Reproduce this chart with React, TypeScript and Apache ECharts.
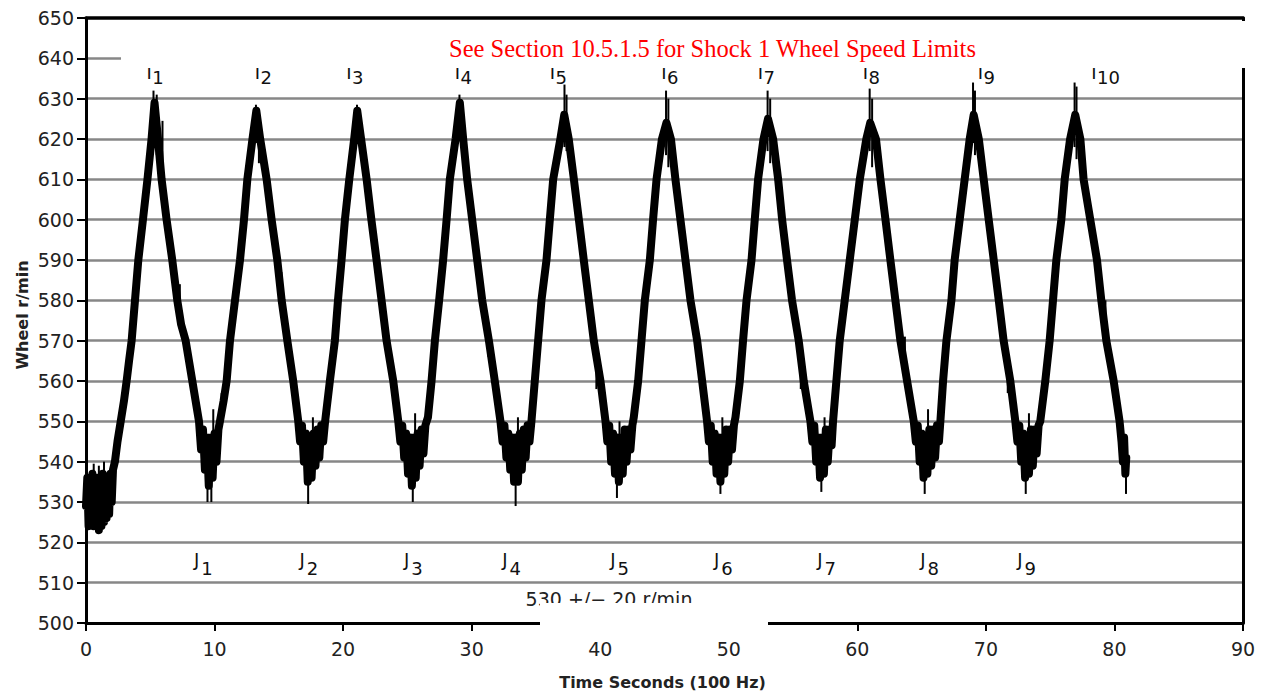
import React, { useEffect, useRef } from "react";
import * as echarts from "echarts";

// Wheel speed trace (r/min), time in seconds
const timeSec: number[] = [
  0.0, 0.1, 0.2, 0.3, 0.4, 0.5, 0.6, 0.7, 0.8, 0.9, 1.0, 1.1, 1.2, 1.3, 1.4, 1.5, 1.6, 1.7, 1.8, 1.9, 2.0, 2.1,
  2.25, 2.45, 2.7, 2.95, 3.16, 3.35, 3.55, 3.81, 4.07, 4.43, 4.78, 5.1, 5.33,
  5.6, 5.88, 6.27, 6.71, 7.1, 7.4, 7.75, 8.27, 8.79,
  8.95, 9.1, 9.25, 9.4, 9.55, 9.7, 9.85, 10.0, 10.15, 10.3,
  10.42, 10.7, 10.94, 11.2, 11.59, 11.98, 12.29, 12.55, 12.95, 13.25,
  13.55, 14.05, 14.44, 14.88, 15.22, 15.66, 16.12, 16.51,
  16.65, 16.8, 16.95, 17.1, 17.25, 17.4, 17.55, 17.7, 17.85, 18.0, 18.15, 18.3, 18.45,
  18.6, 18.97, 19.36, 19.6, 19.88, 20.14, 20.48, 20.86, 21.1,
  21.4, 21.83, 22.2, 22.6, 22.99, 23.38, 23.9, 24.29,
  24.45, 24.6, 24.75, 24.9, 25.05, 25.2, 25.35, 25.5, 25.65, 25.8, 25.95, 26.1, 26.25, 26.4,
  26.6, 26.88, 27.14, 27.47, 27.78, 28.05, 28.3, 28.75, 29.08,
  29.34, 29.65, 30.04, 30.43, 30.82, 31.34, 31.8, 32.24,
  32.4, 32.55, 32.7, 32.85, 33.0, 33.15, 33.3, 33.45, 33.6, 33.75, 33.9, 34.05, 34.2, 34.35, 34.5,
  34.65, 34.91, 35.17, 35.43, 35.82, 36.08, 36.34, 36.9, 37.2,
  37.55, 37.95, 38.34, 38.72, 39.11, 39.5, 40.02, 40.41,
  40.55, 40.7, 40.85, 41.0, 41.15, 41.3, 41.45, 41.6, 41.75, 41.9, 42.05, 42.2, 42.35, 42.5,
  42.61, 42.95, 43.21, 43.47, 43.86, 44.11, 44.38, 44.8, 45.15,
  45.5, 45.85, 46.24, 46.63, 47.02, 47.54, 47.93, 48.31,
  48.45, 48.6, 48.75, 48.9, 49.05, 49.2, 49.35, 49.5, 49.65, 49.8, 49.95, 50.1, 50.25, 50.4,
  50.52, 50.86, 51.11, 51.38, 51.77, 52.02, 52.28, 52.7, 53.05,
  53.45, 53.84, 54.15, 54.53, 54.92, 55.44, 55.83, 56.35,
  56.5, 56.65, 56.8, 56.95, 57.1, 57.25, 57.4, 57.55, 57.7, 57.85, 58.0,
  58.11, 58.37, 58.63, 59.02, 59.41, 59.8, 60.19, 60.7, 61.0,
  61.45, 61.8, 62.19, 62.57, 62.96, 63.35, 63.87, 64.39,
  64.55, 64.7, 64.85, 65.0, 65.15, 65.3, 65.45, 65.6, 65.75, 65.9, 66.05, 66.2, 66.35,
  66.46, 66.67, 66.93, 67.32, 67.57, 67.96, 68.35, 68.74, 69.05,
  69.45, 69.83, 70.22, 70.61, 71.0, 71.38, 71.9, 72.29,
  72.45, 72.6, 72.75, 72.9, 73.05, 73.2, 73.35, 73.5, 73.65, 73.8, 73.95, 74.1,
  74.23, 74.62, 74.96, 75.22, 75.48, 75.87, 76.13, 76.55, 76.95,
  77.35, 77.6, 78.12, 78.64, 78.98, 79.37, 79.94, 80.4, 80.55, 80.66, 80.75, 80.85, 80.92,
];

const wheelRpm: number[] = [
  529, 536, 524, 535, 526, 537, 524, 534, 525, 536, 523, 535, 524, 537, 525, 534, 526, 536, 527, 537, 530, 538,
  540, 545, 550, 555, 560, 565, 570, 580, 590, 600, 610, 620, 629,
  620, 610, 600, 590, 580, 574, 570, 560, 550,
  543, 548, 538, 546, 534, 546, 536, 547, 540, 548,
  550, 555, 560, 570, 580, 590, 600, 610, 620, 627,
  620, 610, 600, 590, 580, 570, 560, 550,
  545, 549, 540, 547, 535, 546, 536, 547, 539, 548, 541, 549, 545,
  550, 560, 570, 580, 590, 600, 610, 620, 627,
  620, 610, 600, 590, 580, 570, 560, 550,
  545, 549, 541, 547, 537, 546, 534, 546, 536, 547, 539, 548, 542, 549,
  551, 560, 570, 580, 590, 600, 610, 620, 629,
  620, 610, 600, 590, 580, 570, 560, 550,
  545, 549, 541, 547, 538, 546, 535, 546, 535, 547, 538, 548, 541, 549, 545,
  550, 560, 570, 580, 590, 600, 610, 620, 626,
  620, 610, 600, 590, 580, 570, 560, 550,
  545, 549, 540, 547, 537, 546, 535, 546, 537, 548, 540, 548, 543, 549,
  551, 560, 570, 580, 590, 600, 610, 620, 624,
  620, 610, 600, 590, 580, 570, 560, 550,
  545, 549, 540, 547, 537, 546, 535, 546, 537, 548, 540, 548, 543, 549,
  551, 560, 570, 580, 590, 600, 610, 620, 625,
  620, 610, 600, 590, 580, 570, 560, 550,
  545, 549, 540, 546, 536, 546, 537, 548, 540, 548, 544,
  550, 560, 570, 580, 590, 600, 610, 620, 624,
  620, 610, 600, 590, 580, 570, 560, 550,
  545, 549, 540, 547, 536, 546, 537, 548, 539, 548, 541, 549, 545,
  550, 560, 570, 580, 590, 600, 610, 620, 626,
  620, 610, 600, 590, 580, 570, 560, 550,
  545, 549, 540, 547, 536, 546, 537, 548, 539, 548, 542, 549,
  550, 560, 570, 580, 590, 600, 610, 620, 626,
  620, 610, 600, 590, 580, 570, 560, 550, 545, 540, 546, 537, 541,
];

// Noise spikes: time, low and high r/min of each spike
const spikeTime: number[] = [
  5.25, 5.5, 5.95, 13.22, 13.45, 21.08, 29.05, 37.22, 37.38, 45.12, 45.3, 53.02, 53.22, 60.96, 61.15, 69.0, 69.15, 76.9, 77.05,
  9.45, 9.75, 17.28, 25.42, 33.42, 41.3, 49.35, 57.2, 65.24, 73.1, 80.9,
  9.9, 10.55, 17.65, 25.6, 33.6, 41.5, 49.5, 57.45, 65.5, 73.35,
  0.6, 1.0, 1.4,
  7.3, 15.2, 23.3, 31.3, 39.7, 47.6, 55.6, 63.7, 71.7, 79.3,
];
const spikeLow: number[] = [
  621, 616, 609, 619, 614, 619, 621, 618, 617, 616, 613, 617, 614, 617, 613, 619, 616, 618, 615,
  530, 530, 529.5, 530, 529, 531, 532, 532.5, 532, 532, 532,
  546, 552, 546, 545, 546, 546, 546, 546, 547, 547,
  535, 535, 535,
  575, 580, 568, 566, 558, 566, 558, 562, 557, 570,
];
const spikeHigh: number[] = [
  632, 631, 624.5, 628.5, 624, 628.5, 631, 633.5, 631, 632, 630, 632, 630, 632.5, 630, 634, 632, 634, 633,
  540, 540, 539, 539, 538, 539, 539, 539, 539, 539, 540,
  553, 557, 551, 552, 551, 550, 551, 551, 553, 552,
  539.5, 539, 540,
  584, 587, 575, 574, 566, 573, 566, 571, 565, 580,
];

// Annotation labels: peaks I1..I10 and troughs J1..J9 (time of the letter)
const peakLabelTime: number[] = [4.92, 13.34, 20.46, 28.9, 36.29, 44.96, 52.47, 60.63, 69.58, 78.41];
const troughLabelTime: number[] = [8.61, 16.82, 24.95, 32.59, 40.99, 49.06, 57.09, 65.11, 72.65];
const peakLabelRpm = 636.6;
const troughLabelRpm = 515.7;

const xTicks = { min: 0, max: 90, interval: 10 };
const yTicks = { min: 500, max: 650, interval: 10 };

const TITLE = "See Section 10.5.1.5 for Shock 1 Wheel Speed Limits";
const BAND_NOTE = "530 +/\u2212 20 r/min";
const X_NAME = "Time Seconds (100 Hz)";
const Y_NAME = "Wheel r/min";

const labelFont = "DejaVu Sans";

function labelSeries(
  times: number[],
  rpm: number,
  text: (i: number) => string,
  align: string,
  offset: number[],
  fontSize: number
) {
  return {
    type: "scatter",
    symbol: "circle",
    symbolSize: 0,
    itemStyle: { color: "#000" },
    silent: true,
    z: 3,
    data: times.map((t) => [t, rpm]),
    label: {
      show: true,
      position: "inside",
      align,
      verticalAlign: "middle",
      offset,
      fontSize,
      fontFamily: labelFont,
      color: "#111",
      opacity: 1,
      textBorderWidth: 0,
      textBorderColor: "transparent",
      formatter: (p: any) => text(p.dataIndex),
    },
  };
}

export default function App() {
  const ref = useRef<HTMLDivElement>(null);

  useEffect(() => {
    if (!ref.current) return;
    const chart = echarts.init(ref.current, undefined, { renderer: "svg" });

    const line = timeSec.map((t, i) => [t, wheelRpm[i]]);
    const spikes = spikeTime.map((t, i) => [t, spikeLow[i], spikeHigh[i]]);

    const option: any = {
      animation: false,
      backgroundColor: "#ffffff",
      textStyle: { fontFamily: labelFont },
      grid: { left: 86, right: 24, top: 18, bottom: 73, show: false },
      xAxis: [
        {
          type: "value",
          ...xTicks,
          position: "bottom",
          axisLine: { show: true, onZero: false, lineStyle: { color: "#000", width: 3 } },
          axisTick: { show: true, length: 8, lineStyle: { color: "#000", width: 2 } },
          axisLabel: { fontSize: 19, color: "#222", margin: 16, fontFamily: labelFont },
          splitLine: { show: false },
        },
        {
          type: "value",
          min: xTicks.min,
          max: xTicks.max,
          position: "top",
          axisLine: { show: true, onZero: false, lineStyle: { color: "#000", width: 3.5 } },
          axisTick: { show: false },
          axisLabel: { show: false },
          splitLine: { show: false },
        },
      ],
      yAxis: [
        {
          type: "value",
          ...yTicks,
          position: "left",
          axisLine: { show: true, onZero: false, lineStyle: { color: "#000", width: 3 } },
          axisTick: { show: true, length: 9, lineStyle: { color: "#000", width: 2 } },
          axisLabel: { fontSize: 19, color: "#222", margin: 12, fontFamily: labelFont },
          splitLine: {
            show: true,
            showMinLine: false,
            showMaxLine: false,
            lineStyle: { color: "#878787", width: 2.5 },
          },
        },
        {
          type: "value",
          min: yTicks.min,
          max: yTicks.max,
          position: "right",
          axisLine: { show: true, onZero: false, lineStyle: { color: "#000", width: 3 } },
          axisTick: { show: false },
          axisLabel: { show: false },
          splitLine: { show: false },
        },
      ],
      series: [
        {
          name: "Wheel speed",
          type: "line",
          data: line,
          showSymbol: false,
          symbol: "none",
          silent: true,
          z: 2,
          lineStyle: { color: "#000", width: 8, cap: "round", join: "round" },
        },
        {
          name: "Noise spikes",
          type: "custom",
          silent: true,
          z: 2,
          data: spikes,
          encode: { x: 0, y: [1, 2] },
          renderItem: (_params: any, api: any) => {
            const a = api.coord([api.value(0), api.value(1)]);
            const b = api.coord([api.value(0), api.value(2)]);
            return {
              type: "line",
              shape: { x1: a[0], y1: a[1], x2: b[0], y2: b[1] },
              style: { stroke: "#000", lineWidth: 2 },
            };
          },
        },
        labelSeries(peakLabelTime, peakLabelRpm, () => "I", "center", [0, 0], 18),
        labelSeries(peakLabelTime, peakLabelRpm, (i) => String(i + 1), "left", [3, 5], 18),
        labelSeries(troughLabelTime, troughLabelRpm, () => "J", "center", [0, 0], 18),
        labelSeries(troughLabelTime, troughLabelRpm, (i) => String(i + 1), "left", [4.5, 9], 18),
      ],
      graphic: [
        {
          type: "rect",
          z: 100,
          shape: { x: 121, y: 21, width: 1129, height: 47 },
          style: { fill: "#ffffff" },
        },
        {
          type: "text",
          z: 101,
          x: 712.5,
          y: 48.5,
          style: {
            text: TITLE,
            fill: "#ff0000",
            font: '24.5px "Liberation Serif"',
            align: "center",
            verticalAlign: "middle",
          },
        },
        {
          type: "text",
          z: 50,
          x: 609,
          y: 599,
          style: {
            text: BAND_NOTE,
            fill: "#222",
            font: '19px "DejaVu Sans"',
            align: "center",
            verticalAlign: "middle",
          },
        },
        {
          type: "rect",
          z: 100,
          shape: { x: 540, y: 603, width: 228, height: 33 },
          style: { fill: "#ffffff" },
        },
        {
          type: "text",
          z: 50,
          x: 662.5,
          y: 682,
          style: {
            text: X_NAME,
            fill: "#222",
            font: 'bold 16px "DejaVu Sans"',
            align: "center",
            verticalAlign: "middle",
          },
        },
        {
          type: "text",
          z: 50,
          x: 22,
          y: 315,
          rotation: Math.PI / 2,
          style: {
            text: Y_NAME,
            fill: "#222",
            font: 'bold 16px "DejaVu Sans"',
            align: "center",
            verticalAlign: "middle",
          },
        },
      ],
    };

    chart.setOption(option);
    return () => chart.dispose();
  }, []);

  return (
    <div
      ref={ref}
      style={{ position: "absolute", left: 0, top: 0, width: 1267, height: 696, background: "#fff" }}
    />
  );
}
